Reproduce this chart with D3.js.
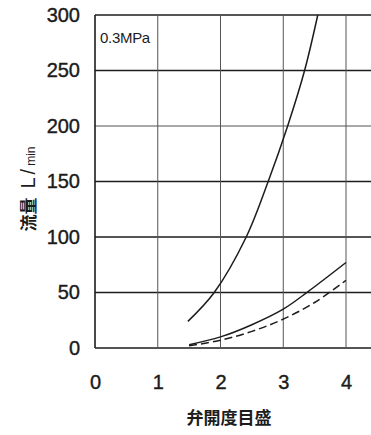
<!DOCTYPE html>
<html>
<head>
<meta charset="utf-8">
<script src="https://cdn.jsdelivr.net/npm/d3@7"></script>
<style>
  body { margin: 0; background: #fff; }
  svg { display: block; }
</style>
</head>
<body>
<div id="chart"></div>
<script>
// Data
const xTicks = [0, 1, 2, 3, 4];
const yTicks = [0, 50, 100, 150, 200, 250, 300];
const xLabel = "弁開度目盛";
const pressureNote = "0.3MPa";

// upper solid curve
const upperX = [1.48, 1.90, 2.41, 2.76, 3.07, 3.34, 3.55];
const upperY = [24, 50, 100, 150, 200, 250, 300];
// lower solid curve
const lowerX = [1.5, 2.0, 2.5, 3.0, 3.4, 4.0];
const lowerY = [3, 10, 21, 35, 51, 77];
// dashed curve
const dashX = [1.5, 2.0, 2.5, 3.0, 3.5, 4.0];
const dashY = [2, 7, 15, 26, 41, 61];

const width = 371, height = 435;
const margin = { top: 15, left: 95, bottom: 87 };

const svg = d3.select("#chart").append("svg")
  .attr("width", width)
  .attr("height", height);

const x = d3.scaleLinear().domain([0, 4]).range([margin.left, 346]);
const y = d3.scaleLinear().domain([0, 300]).range([height - margin.bottom, margin.top]);

const ink = "#1c1c1c";

// horizontal grid lines (run off the right edge like the scan)
svg.append("g")
  .selectAll("line")
  .data(yTicks)
  .enter()
  .append("line")
  .attr("x1", x(0))
  .attr("x2", width)
  .attr("y1", d => y(d))
  .attr("y2", d => y(d))
  .style("stroke", ink)
  .style("stroke-width", d => (d === 200 ? 1.2 : 1.6))
  .style("opacity", d => (d === 200 ? 0.75 : 1));

// vertical grid lines
svg.append("g")
  .selectAll("line")
  .data(xTicks)
  .enter()
  .append("line")
  .attr("x1", d => x(d))
  .attr("x2", d => x(d))
  .attr("y1", y(300))
  .attr("y2", y(0))
  .style("stroke", d => (d === 0 ? ink : "#555"))
  .style("stroke-width", d => (d === 0 ? 1.6 : 1));

// y tick labels
svg.append("g")
  .attr("transform", `translate(${x(0) - 15},0)`)
  .call(d3.axisLeft(y).tickValues(yTicks).tickFormat(d3.format("d")).tickSize(0).tickPadding(0))
  .call(g => g.select(".domain").remove())
  .selectAll("text")
  .style("font-family", "'Liberation Sans', Arial, sans-serif")
  .style("font-size", "20px")
  .style("fill", ink)
  .style("stroke", ink)
  .style("stroke-width", 0.4);

// x tick labels
svg.append("g")
  .attr("transform", `translate(0,${y(0) + 27})`)
  .call(d3.axisBottom(x).tickValues(xTicks).tickFormat(d3.format("d")).tickSize(0).tickPadding(0))
  .call(g => g.select(".domain").remove())
  .selectAll("text")
  .style("font-family", "'Liberation Sans', Arial, sans-serif")
  .style("font-size", "20px")
  .style("fill", ink)
  .style("stroke", ink)
  .style("stroke-width", 0.4);

// x axis title
svg.append("text")
  .attr("x", 229)
  .attr("y", 424)
  .attr("text-anchor", "middle")
  .style("font-family", "'Noto Sans CJK JP', sans-serif")
  .style("font-size", "17px")
  .style("font-weight", "bold")
  .style("fill", ink)
  .text(xLabel);

// y axis title
const yTitle = svg.append("text")
  .attr("transform", "translate(35,189) rotate(-90)")
  .attr("text-anchor", "middle")
  .style("font-family", "'Noto Sans CJK JP', sans-serif")
  .style("font-weight", "bold")
  .style("fill", ink);
yTitle.append("tspan").style("font-size", "17px").text("流量");
yTitle.append("tspan").attr("dx", 9)
  .style("font-family", "'Liberation Sans', Arial, sans-serif")
  .style("font-size", "20px").style("font-weight", "normal")
  .style("letter-spacing", "3px").text("L/");
yTitle.append("tspan")
  .style("font-family", "'Liberation Sans', Arial, sans-serif")
  .style("font-size", "12px").style("font-weight", "normal").text("min");

// pressure note
svg.append("text")
  .attr("x", x(0) + 5)
  .attr("y", 43)
  .style("font-family", "'Liberation Sans', Arial, sans-serif")
  .style("font-size", "15px")
  .style("letter-spacing", "-0.3px")
  .style("fill", ink)
  .text(pressureNote);

// curves
const line = d3.line()
  .x(d => x(d[0]))
  .y(d => y(d[1]))
  .curve(d3.curveCatmullRom.alpha(0.5));

const curves = [
  { pts: d3.zip(upperX, upperY), dash: null },
  { pts: d3.zip(lowerX, lowerY), dash: null },
  { pts: d3.zip(dashX, dashY), dash: "8,4" }
];

svg.append("g")
  .selectAll("path")
  .data(curves)
  .enter()
  .append("path")
  .attr("d", d => line(d.pts))
  .style("fill", "none")
  .style("stroke", ink)
  .style("stroke-width", 1.5)
  .style("stroke-dasharray", d => d.dash);
</script>
</body>
</html>
